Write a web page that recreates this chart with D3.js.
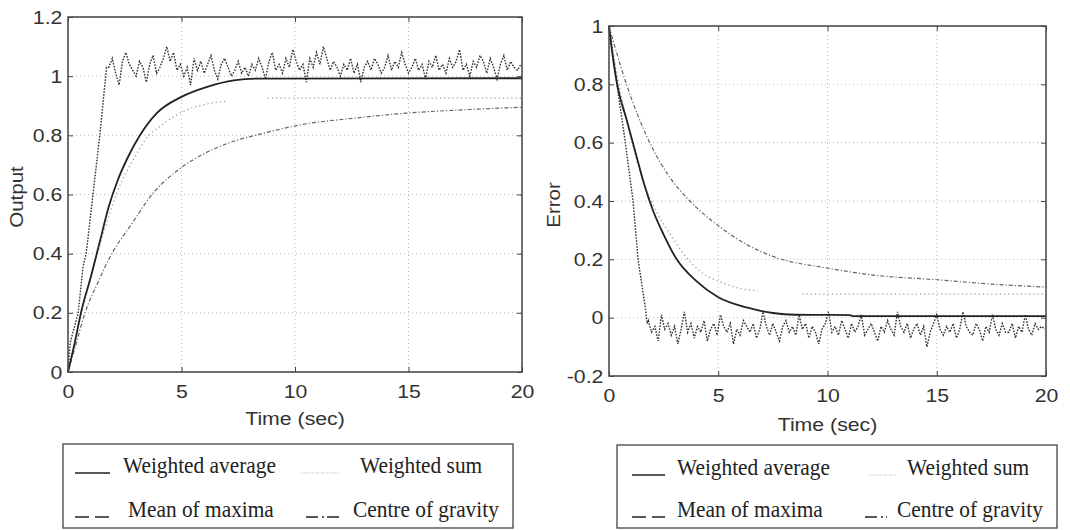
<!DOCTYPE html>
<html>
<head>
<meta charset="utf-8">
<script src="https://cdn.jsdelivr.net/npm/d3@7"></script>
<style>
  body { margin: 0; background: #fff; }
  svg { display: block; }
</style>
</head>
<body>
<div id="chart"></div>
<script>
// Данные: выход системы (левый график), пары [время, значение]
const outAvg = [[0,0],[0.3,0.1],[0.6,0.21],[1,0.32],[1.4,0.44],[1.8,0.56],[2.2,0.65],[2.6,0.72],[3.17,0.8],[3.9,0.874],[5,0.93],[6.1,0.963],[7.3,0.986],[8.5,0.992],[20,0.993]];
const outSum = [[0,0],[0.2,0.07],[0.6,0.2],[1.3,0.4],[1.9,0.55],[2.4,0.65],[2.9,0.72],[3.5,0.795],[4.05,0.83],[4.6,0.86],[5.2,0.885],[5.8,0.9],[6.4,0.91],[7,0.915],[7.9,null],[8.8,0.926],[20,0.926]];
const outMomRise = [[0,0],[0.1,0.1],[0.45,0.2],[0.66,0.355],[0.8,0.4],[1.1,0.6],[1.4,0.8],[1.7,1.03]];
const outMomNoise = [1.03,1.06,1.01,0.97,1.05,1.08,1.04,1.02,1.00,1.05,
  1.03,0.98,1.04,1.07,1.01,1.03,1.06,1.10,1.05,1.08,
  1.02,1.04,1.00,1.03,0.97,1.06,1.02,1.05,1.01,1.04,
  1.07,1.02,0.99,1.04,1.06,1.03,1.00,1.02,1.05,1.01,
  1.03,1.00,1.04,1.02,1.06,1.03,0.99,1.05,1.08,1.02,
  1.04,1.01,1.06,1.03,1.09,1.05,1.02,1.04,0.98,1.06,
  1.03,1.08,1.04,1.10,1.06,1.02,1.05,1.03,1.00,1.04,
  1.02,1.06,1.01,1.04,0.98,1.03,1.05,1.02,1.06,1.04,
  1.01,1.03,1.07,1.02,1.05,1.03,1.08,1.04,1.01,1.03,
  1.06,1.02,1.04,0.99,1.05,1.03,1.07,1.02,1.04,1.01,
  1.06,1.03,1.05,1.09,1.02,1.04,1.00,1.05,1.03,1.07,
  1.05,1.01,1.06,1.03,0.99,1.04,1.07,1.02,1.05,1.03,
  1.02,1.04];
const outCog = [[0,0],[0.3,0.08],[0.75,0.2],[1.3,0.3],[1.93,0.4],[2.8,0.5],[3.7,0.6],[4.8,0.68],[5.8,0.73],[7.3,0.78],[8.5,0.805],[10.2,0.835],[12.6,0.858],[14.9,0.875],[17.9,0.888],[20,0.895]];

// Данные: ошибка (правый график)
const errAvg = [[0,1],[0.2,0.88],[0.4,0.79],[0.8,0.68],[1.2,0.57],[1.6,0.46],[2,0.37],[2.5,0.285],[3.1,0.2],[4,0.125],[5,0.07],[6.3,0.035],[7.5,0.016],[8.5,0.01],[11,0.009],[11.2,0.005],[20,0.005]];
const errSum = [[0,1],[0.4,0.82],[0.9,0.65],[1.5,0.48],[2.2,0.36],[2.95,0.27],[3.4,0.22],[4.2,0.157],[5.2,0.12],[6,0.1],[6.8,0.092],[7.8,null],[8.85,0.081],[20,0.081]];
const errMomDrop = [[0,1],[0.4,0.78],[0.73,0.61],[1.1,0.4],[1.33,0.2],[1.65,0.04],[1.75,-0.02]];
const errMomNoise = [-0.01,-0.05,-0.03,-0.08,0.01,-0.04,-0.02,-0.06,-0.03,-0.09,
  -0.04,0.02,-0.05,-0.02,-0.07,-0.03,-0.05,-0.01,-0.08,-0.04,
  -0.02,-0.06,0.01,-0.03,-0.05,-0.02,-0.09,-0.04,-0.06,-0.01,
  -0.03,-0.05,-0.02,-0.07,-0.04,0.02,-0.03,-0.06,-0.02,-0.05,
  -0.08,-0.03,-0.01,-0.05,-0.03,-0.06,0.01,-0.04,-0.02,-0.07,
  -0.03,-0.05,-0.09,-0.04,-0.02,0.02,-0.05,-0.03,-0.06,-0.01,
  -0.04,-0.07,-0.02,-0.05,-0.03,0.01,-0.06,-0.04,-0.02,-0.05,
  -0.08,-0.03,-0.05,-0.01,-0.04,-0.06,0.02,-0.03,-0.05,-0.02,
  -0.07,-0.04,-0.02,-0.06,-0.03,-0.10,-0.05,-0.02,0.01,-0.04,
  -0.06,-0.03,-0.05,-0.02,-0.07,-0.04,0.02,-0.03,-0.05,-0.06,
  -0.02,-0.04,-0.08,-0.03,-0.05,0.01,-0.04,-0.06,-0.02,-0.05,
  -0.05,-0.02,-0.07,-0.03,-0.05,0.01,-0.04,-0.06,-0.02,-0.04,
  -0.03,-0.04];
const errCog = [[0,1],[0.8,0.8],[1.8,0.61],[2.7,0.49],[3.7,0.4],[5.1,0.31],[6.2,0.255],[7.5,0.21],[10,0.17],[12.1,0.146],[15,0.13],[17.5,0.115],[20,0.105]];

// Шкалы и подписи
const xTicks = [0, 5, 10, 15, 20];
const outTicks = [0, 0.2, 0.4, 0.6, 0.8, 1, 1.2];
const errTicks = [-0.2, 0, 0.2, 0.4, 0.6, 0.8, 1];
const legendNames = ["Weighted average", "Weighted sum", "Mean of maxima", "Centre of gravity"];

// Шум: время начинается с 1.8 с шагом 0.15
const noiseStart = 1.8, noiseStep = 0.15;
const withNoise = (rise, noise) => rise.concat(noise.map((v, i) => [noiseStart + i * noiseStep, v]));

const width = 1070, height = 530;
const sans = "'Liberation Sans', Arial, sans-serif";
const svg = d3.select("#chart").append("svg")
    .attr("width", width)
    .attr("height", height)
    .style("font-family", sans);

// Стили линий
const styles = {
    avg: { stroke: "#222", width: 1.8, dash: "none", smooth: true },
    sum: { stroke: "#9a9a9a", width: 1.3, dash: "1.2,3", smooth: true },
    mom: { stroke: "#333", width: 1.4, dash: "1.6,1.4", smooth: false },
    cog: { stroke: "#666", width: 1.2, dash: "4,2,1.2,2", smooth: true }
};

function drawPlot(cfg) {
    const x = d3.scaleLinear().domain([0, 20]).range(cfg.xr);
    const y = d3.scaleLinear().domain(cfg.yd).range(cfg.yr);
    const g = svg.append("g");

    // Сетка
    xTicks.forEach(t => {
        g.append("line")
            .attr("x1", x(t)).attr("x2", x(t))
            .attr("y1", cfg.yr[0]).attr("y2", cfg.yr[1])
            .attr("stroke", "#b8b8b8").attr("stroke-dasharray", "1,3");
    });
    cfg.ticks.forEach(t => {
        g.append("line")
            .attr("x1", cfg.xr[0]).attr("x2", cfg.xr[1])
            .attr("y1", y(t)).attr("y2", y(t))
            .attr("stroke", "#b8b8b8").attr("stroke-dasharray", "1,3");
    });

    // Кривые
    cfg.series.forEach(s => {
        const st = styles[s.key];
        const line = d3.line()
            .defined(d => d[1] !== null)
            .curve(st.smooth ? d3.curveMonotoneX : d3.curveLinear)
            .x(d => x(d[0]))
            .y(d => y(d[1]));
        g.append("path")
            .datum(s.data)
            .attr("d", line)
            .attr("fill", "none")
            .attr("stroke", st.stroke)
            .attr("stroke-width", st.width)
            .attr("stroke-dasharray", st.dash);
    });

    // Оси с внутренними засечками
    const fmt = d => String(d);
    const axB = g.append("g").attr("transform", `translate(0,${cfg.yr[0]})`)
        .call(d3.axisBottom(x).tickValues(xTicks).tickFormat(fmt).tickSizeInner(-5).tickSizeOuter(0).tickPadding(13));
    const axT = g.append("g").attr("transform", `translate(0,${cfg.yr[1]})`)
        .call(d3.axisTop(x).tickValues(xTicks).tickFormat("").tickSizeInner(-5).tickSizeOuter(0));
    const axL = g.append("g").attr("transform", `translate(${cfg.xr[0]},0)`)
        .call(d3.axisLeft(y).tickValues(cfg.ticks).tickFormat(fmt).tickSizeInner(-5).tickSizeOuter(0).tickPadding(5));
    const axR = g.append("g").attr("transform", `translate(${cfg.xr[1]},0)`)
        .call(d3.axisRight(y).tickValues(cfg.ticks).tickFormat("").tickSizeInner(-5).tickSizeOuter(0));
    [axB, axT, axL, axR].forEach(a => {
        a.select(".domain").remove();
        a.selectAll("line").attr("stroke", "#444");
        a.selectAll("text")
            .attr("fill", "#333")
            .attr("transform", "scale(1.12,1)")
            .style("font-size", "19px")
            .style("font-family", sans);
    });

    // Рамка
    g.append("rect")
        .attr("x", cfg.xr[0]).attr("y", cfg.yr[1])
        .attr("width", cfg.xr[1] - cfg.xr[0]).attr("height", cfg.yr[0] - cfg.yr[1])
        .attr("fill", "none").attr("stroke", "#444").attr("stroke-width", 1.5);

    // Подписи осей
    g.append("text")
        .attr("transform", `translate(${x(10)},${cfg.xlabY}) scale(1.12,1)`)
        .attr("text-anchor", "middle")
        .attr("fill", "#333").style("font-size", "19px")
        .text("Time (sec)");
    g.append("text")
        .attr("transform", `translate(${cfg.ylabX},${cfg.ylabY}) rotate(-90) scale(1.08,1)`)
        .attr("text-anchor", "middle")
        .attr("fill", "#333").style("font-size", "19px")
        .text(cfg.ylabel);
}

drawPlot({
    xr: [68, 522], yd: [0, 1.2], yr: [372, 17], ticks: outTicks,
    xlabY: 425, ylabX: 23, ylabY: 197, ylabel: "Output",
    series: [
        { key: "cog", data: outCog },
        { key: "sum", data: outSum },
        { key: "mom", data: withNoise(outMomRise, outMomNoise) },
        { key: "avg", data: outAvg }
    ]
});

drawPlot({
    xr: [609, 1046], yd: [-0.2, 1], yr: [376, 26], ticks: errTicks,
    xlabY: 431, ylabX: 560, ylabY: 205, ylabel: "Error",
    series: [
        { key: "cog", data: errCog },
        { key: "sum", data: errSum },
        { key: "mom", data: withNoise(errMomDrop, errMomNoise) },
        { key: "avg", data: errAvg }
    ]
});

// Легенды
const legendKeys = ["avg", "sum", "mom", "cog"];
const legendSample = {
    avg: { dash: "none", stroke: "#222", w: 1.3 },
    sum: { dash: "1,1.5", stroke: "#aaa", w: 1 },
    mom: { dash: "14,6", stroke: "#222", w: 1.3 },
    cog: { dash: "12,4,2,3,12", stroke: "#222", w: 1.3 }
};

function drawLegend(box, items, rows) {
    const lg = svg.append("g");
    lg.append("rect")
        .attr("x", box[0]).attr("y", box[1])
        .attr("width", box[2] - box[0]).attr("height", box[3] - box[1])
        .attr("fill", "#fff").attr("stroke", "#444").attr("stroke-width", 1.3);
    legendKeys.forEach((k, i) => {
        const it = items[i], yb = rows[Math.floor(i / 2)];
        const st = legendSample[k];
        lg.append("line")
            .attr("x1", it[0]).attr("x2", it[1])
            .attr("y1", yb).attr("y2", yb)
            .attr("stroke", st.stroke).attr("stroke-width", st.w)
            .attr("stroke-dasharray", st.dash);
        lg.append("text")
            .attr("transform", `translate(${it[2]},${yb}) scale(0.89,1)`)
            .attr("fill", "#222")
            .style("font-family", "'Liberation Serif', 'Times New Roman', serif")
            .style("font-size", "24px")
            .text(legendNames[i]);
    });
}

// [начало линии, конец линии, начало текста]
drawLegend([63, 444, 513, 528],
    [[75, 110, 123], [302, 340, 360], [75, 110, 128], [306, 340, 353]],
    [473, 517]);
drawLegend([617, 445, 1057, 528],
    [[632, 665, 677], [870, 898, 907], [632, 665, 677], [865, 887, 897]],
    [475, 517]);
</script>
</body>
</html>
